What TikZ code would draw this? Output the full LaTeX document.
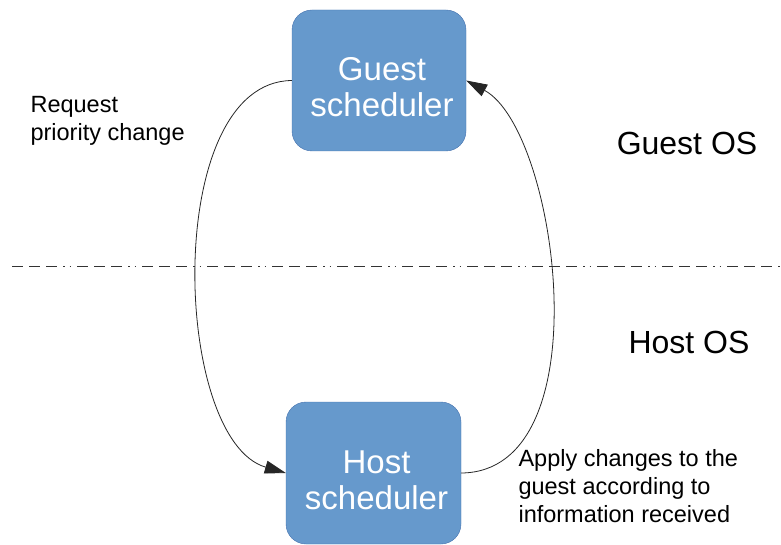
\documentclass[tikz,border=0pt]{standalone}
\usepackage{fontspec}
\setmainfont{Liberation Sans}
\usepackage{xcolor}
\usetikzlibrary{arrows.meta,positioning}
\definecolor{schedfill}{RGB}{102,153,204}
\definecolor{schedline}{RGB}{70,115,175}
% two lines in a box, pushed a little down
\newcommand{\schedlines}[2]{\begin{tabular}{@{\hspace{6pt}}c@{}}\rule{0pt}{47pt}#1\\#2\end{tabular}}

\begin{document}
\begin{tikzpicture}[x=1pt, y=-1pt,
    sched/.style={rectangle, rounded corners=20pt, draw=schedline, fill=schedfill, text=white,
      minimum width=174pt, minimum height=141pt, inner sep=0pt, font=\fontsize{33}{36}\selectfont},
    side/.style={font=\fontsize{32}{36}\selectfont},
    note/.style={align=left, anchor=west, font=\fontsize{23.5}{28}\selectfont},
    flow/.style={-{Triangle[length=21pt,width=13pt]}, draw=black!85, line width=0.8pt}]
    \useasboundingbox (0,0) rectangle (781,545);
    \node[sched] (guest) at (379,80.5) {\schedlines{Guest}{scheduler}};
    \node[sched, minimum width=175pt, minimum height=142pt] (host) at (373.5,473) {\schedlines{Host}{scheduler}};
    \node[side] (guestos) at (687,143) {Guest OS};
    \node[side] (hostos) at (689,342) {Host OS};
    \node[note] (request) at (27,121) {Request\\priority change};
    \node[note] (apply) at (515,486) {Apply changes to the\\guest according to\\information received};
    \coordinate (lineA) at (12,266);
    \coordinate (lineB) at (781,266);
    \draw[black!80, line width=0.9pt, dash pattern=on 11pt off 6pt on 11pt off 6pt on 11pt off 6pt on 1.5pt off 5pt on 1.5pt off 6pt] (lineA) -- (lineB);
    \draw[flow] (guest.west) .. controls (162,82) and (172,440) .. (host.west);
    \draw[flow] (host.east) .. controls (604,472) and (558,130) .. (guest.east);
\end{tikzpicture}
\end{document}
